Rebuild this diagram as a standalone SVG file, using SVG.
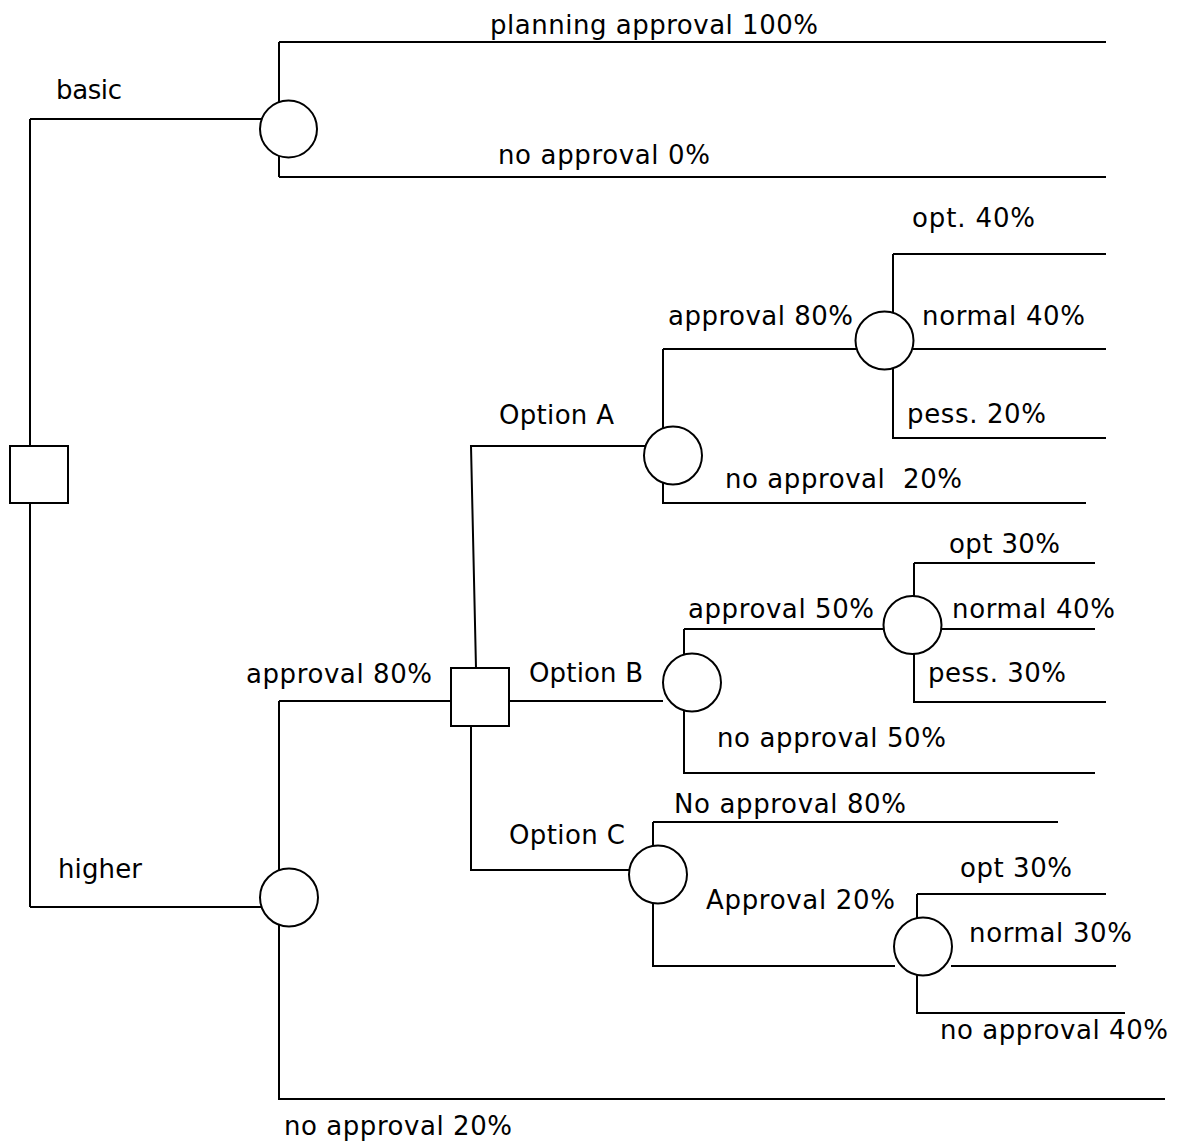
<svg xmlns="http://www.w3.org/2000/svg" width="1178" height="1142" viewBox="0 0 1178 1142">
<style>
.c{fill:none;stroke:#000;stroke-width:2}
.n{fill:#fff;stroke:#000;stroke-width:2}
text{font-family:"DejaVu Sans","Liberation Sans",sans-serif;font-size:26px;fill:#000}
</style>
<rect x="0" y="0" width="1178" height="1142" fill="#fff"/>
<g id="connectors">
<path class="c" d="M30,119 V446 M30,503 V907"/>
<path class="c" d="M30,119 H262"/>
<path class="c" d="M279,42 V177 M279,42 H1106 M279,177 H1106"/>
<path class="c" d="M30,907 H262"/>
<path class="c" d="M279,701 V1099 H1165 M279,701 H451"/>
<path class="c" d="M509,701 H663"/>
<path class="c" d="M476,668 L471,446 H645"/>
<path class="c" d="M663,349 V503 H1086 M663,349 H856"/>
<path class="c" d="M893,254 V438 M893,254 H1106 M913,349 H1106 M892,438 H1106"/>
<path class="c" d="M684,629 V773 H1095 M684,629 H884"/>
<path class="c" d="M914,563 V702 H1106 M914,563 H1095 M941,629 H1095"/>
<path class="c" d="M471,726 V870 H629"/>
<path class="c" d="M653,822 V966 H895 M653,822 H1058"/>
<path class="c" d="M917,894 V1013 H1125 M917,894 H1106 M951,966 H1116"/>
</g>
<g id="decision-root"><rect class="n" x="10" y="446" width="58" height="57"/></g>
<g id="decision-higher"><rect class="n" x="451" y="668" width="58" height="58"/></g>
<g id="chance-basic"><circle class="n" cx="288.5" cy="129" r="28.5"/></g>
<g id="chance-higher"><circle class="n" cx="289" cy="897.5" r="29"/></g>
<g id="chance-A"><circle class="n" cx="673" cy="455.5" r="29"/></g>
<g id="chance-A2"><circle class="n" cx="884.5" cy="340.5" r="29"/></g>
<g id="chance-B"><circle class="n" cx="692" cy="682.5" r="29"/></g>
<g id="chance-B2"><circle class="n" cx="912.5" cy="625" r="29"/></g>
<g id="chance-C"><circle class="n" cx="658" cy="874.5" r="29"/></g>
<g id="chance-C2"><circle class="n" cx="923" cy="946.5" r="29"/></g>
<g id="labels">
<text x="56" y="99" textLength="66">basic</text>
<text x="58" y="878" textLength="84">higher</text>
<text x="490" y="34" textLength="328">planning approval 100%</text>
<text x="498" y="164" textLength="212">no approval 0%</text>
<text x="912" y="227" textLength="123">opt. 40%</text>
<text x="668" y="325" textLength="185">approval 80%</text>
<text x="922" y="325" textLength="163">normal 40%</text>
<text x="907" y="423" textLength="139">pess. 20%</text>
<text x="499" y="424" textLength="115">Option A</text>
<text x="725" y="488" textLength="237" xml:space="preserve">no approval  20%</text>
<text x="949" y="553" textLength="111">opt 30%</text>
<text x="688" y="618" textLength="186">approval 50%</text>
<text x="952" y="618" textLength="163">normal 40%</text>
<text x="529" y="682" textLength="114">Option B</text>
<text x="928" y="682" textLength="138">pess. 30%</text>
<text x="246" y="683" textLength="186">approval 80%</text>
<text x="717" y="747" textLength="229">no approval 50%</text>
<text x="674" y="813" textLength="232">No approval 80%</text>
<text x="509" y="844" textLength="116">Option C</text>
<text x="960" y="877" textLength="112">opt 30%</text>
<text x="706" y="909" textLength="189">Approval 20%</text>
<text x="969" y="942" textLength="163">normal 30%</text>
<text x="940" y="1039" textLength="228">no approval 40%</text>
<text x="284" y="1135" textLength="228">no approval 20%</text>
</g>
</svg>
